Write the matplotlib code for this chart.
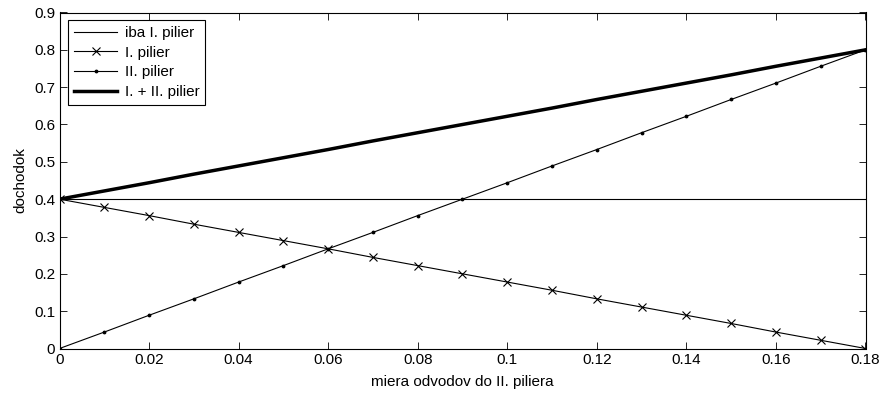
import matplotlib
matplotlib.use("Agg")
import matplotlib.pyplot as plt

x = [0.00, 0.01, 0.02, 0.03, 0.04, 0.05, 0.06, 0.07, 0.08, 0.09,
     0.10, 0.11, 0.12, 0.13, 0.14, 0.15, 0.16, 0.17, 0.18]
iba_I = [0.4] * 19
I_pilier = [0.400, 0.378, 0.356, 0.333, 0.311, 0.289, 0.267, 0.244, 0.222, 0.200,
            0.178, 0.156, 0.133, 0.111, 0.089, 0.067, 0.044, 0.022, 0.000]
II_pilier = [0.000, 0.044, 0.089, 0.133, 0.178, 0.222, 0.267, 0.311, 0.356, 0.400,
             0.444, 0.489, 0.533, 0.578, 0.622, 0.667, 0.711, 0.756, 0.800]
I_II = [0.400, 0.422, 0.444, 0.467, 0.489, 0.511, 0.533, 0.556, 0.578, 0.600,
        0.622, 0.644, 0.667, 0.689, 0.711, 0.733, 0.756, 0.778, 0.800]

xticks = [0, 0.02, 0.04, 0.06, 0.08, 0.1, 0.12, 0.14, 0.16, 0.18]
xticklabels = ['0', '0.02', '0.04', '0.06', '0.08', '0.1', '0.12', '0.14', '0.16', '0.18']
yticks = [0, 0.1, 0.2, 0.3, 0.4, 0.5, 0.6, 0.7, 0.8, 0.9]
yticklabels = ['0', '0.1', '0.2', '0.3', '0.4', '0.5', '0.6', '0.7', '0.8', '0.9']

plt.rcParams['font.family'] = ['Liberation Sans', 'DejaVu Sans']
plt.rcParams['font.size'] = 11

fig = plt.figure(figsize=(8.83, 3.94), dpi=100)
ax = fig.add_axes([59.5/883, 1 - 348.5/394, (865.5-59.5)/883, (348.5-12.5)/394])

ax.plot(x, iba_I, color='black', lw=0.8, label='iba I. pilier')
ax.plot(x, I_pilier, color='black', lw=0.8, marker='x', ms=5.5, mew=0.8, label='I. pilier')
ax.plot(x, II_pilier, color='black', lw=0.8, marker='.', ms=3.5, label='II. pilier')
ax.plot(x, I_II, color='black', lw=2.5, label='I. + II. pilier')

ax.set_xlim(0, 0.18)
ax.set_ylim(0, 0.9)
ax.set_xticks(xticks)
ax.set_xticklabels(xticklabels)
ax.set_yticks(yticks)
ax.set_yticklabels(yticklabels)
ax.tick_params(direction='in', top=True, right=True, length=5, width=0.6, pad=3)
for s in ax.spines.values():
    s.set_linewidth(0.8)

ax.set_xlabel('miera odvodov do II. piliera', labelpad=6)
ax.set_ylabel('dochodok', labelpad=5)

leg = ax.legend(loc='upper left', bbox_to_anchor=(8.5/806, 1 - 7.5/336), borderaxespad=0,
                fancybox=False, edgecolor='black', framealpha=1, handlelength=2.8,
                handletextpad=0.5, labelspacing=0.37, borderpad=0.4)
leg.get_frame().set_linewidth(0.8)

fig.savefig('out.png', dpi=100)
